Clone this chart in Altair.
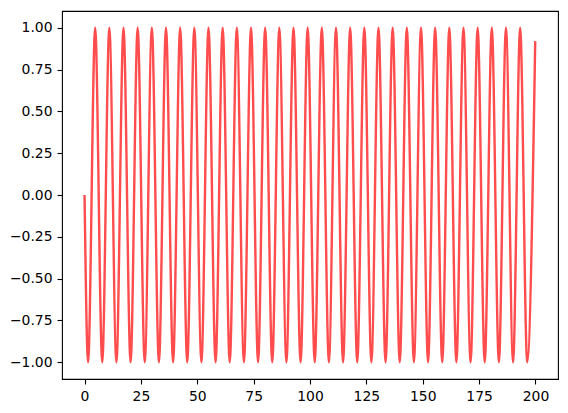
import altair as alt
import pandas as pd

# key points: start, alternating troughs (-1) / peaks (+1), end
x_vals = [0.0, 1.57, 4.71, 7.85, 10.99, 14.14, 17.28, 20.42, 23.56, 26.70, 29.85,
          32.99, 36.13, 39.27, 42.41, 45.55, 48.69, 51.84, 54.98, 58.12, 61.26,
          64.40, 67.54, 70.69, 73.83, 76.97, 80.11, 83.25, 86.39, 89.54, 92.68,
          95.82, 98.96, 102.10, 105.24, 108.38, 111.53, 114.67, 117.81, 120.95, 124.09,
          127.23, 130.38, 133.52, 136.66, 139.80, 142.94, 146.08, 149.23, 152.37, 155.51,
          158.65, 161.79, 164.93, 168.07, 171.22, 174.36, 177.50, 180.64, 183.78, 186.92,
          190.07, 193.21, 196.35, 199.9]
y_vals = [0.0] + [-1.0 if i % 2 == 0 else 1.0 for i in range(63)] + [0.92]

x_ticks = [0, 25, 50, 75, 100, 125, 150, 175, 200]
y_ticks = [-1.0, -0.75, -0.5, -0.25, 0.0, 0.25, 0.5, 0.75, 1.0]

df = pd.DataFrame({"x": x_vals, "y": y_vals, "order": list(range(len(x_vals)))})

axis_common = dict(
    grid=False, domain=False, tickColor="black", tickWidth=1.1, tickSize=5,
    labelPadding=5, labelFont="DejaVu Sans", labelFontSize=13.9, labelColor="black",
    title=None,
)

chart = alt.Chart(df).mark_line(
    color="#ff0000", opacity=0.7, strokeWidth=2.4, interpolate="monotone"
).encode(
    x=alt.X("x:Q", scale=alt.Scale(domain=[-10, 210], nice=False, zero=False),
            axis=alt.Axis(values=x_ticks, format="d", **axis_common)),
    y=alt.Y("y:Q", scale=alt.Scale(domain=[-1.1, 1.1], nice=False, zero=False),
            axis=alt.Axis(values=y_ticks, format=".2f", **axis_common)),
    order="order:Q",
).properties(
    width=496, height=368,
    padding={"left": 54, "top": 3, "right": 2, "bottom": 34},
    autosize="none",
).configure_view(stroke="black", strokeWidth=1.1)

chart.save("out.html", embed_options={"renderer": "svg", "actions": False})
